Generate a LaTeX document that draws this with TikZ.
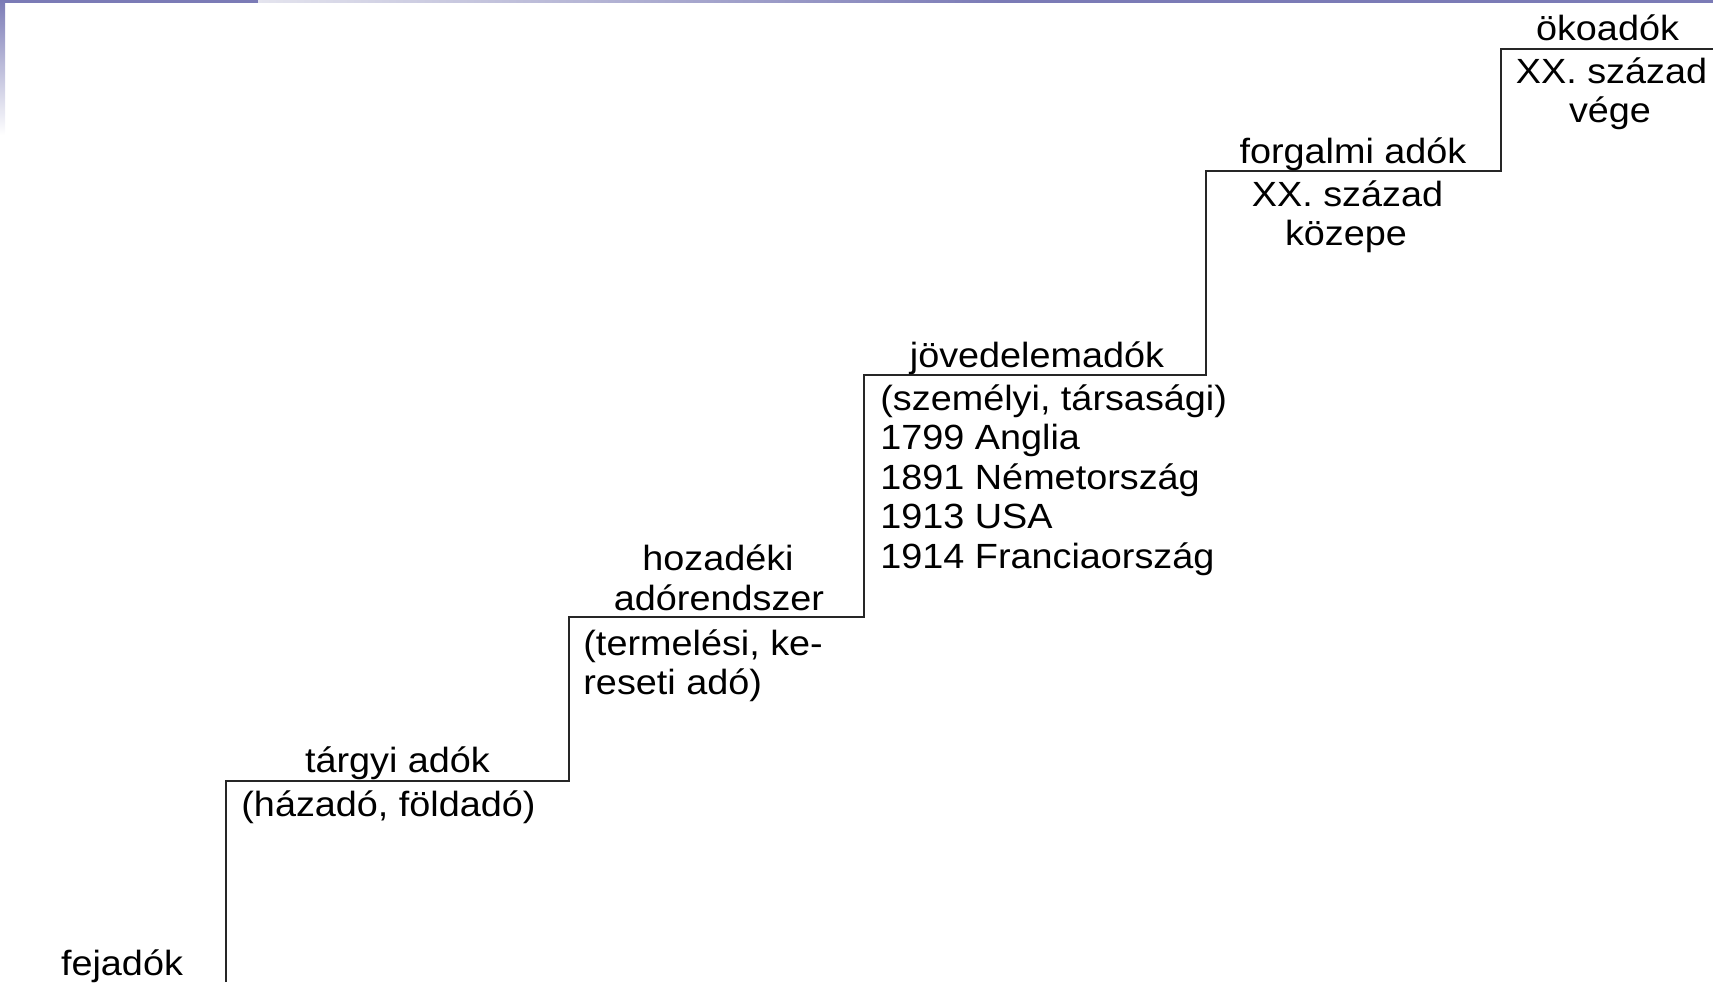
\documentclass[tikz,border=0pt]{standalone}
\usepackage{fontspec}
\setmainfont[FakeStretch=1.08]{Liberation Sans}
\definecolor{barpurple}{HTML}{7B7BB6}
\definecolor{barlight}{HTML}{E4E4EE}
\begin{document}
\begin{tikzpicture}[x=0.5pt,y=-0.5pt,
  lbl/.style={inner sep=0pt,anchor=base,font=\fontsize{17.5pt}{19.25pt}\selectfont},
  lblw/.style={lbl,anchor=base west},
  stair/.style={draw=black!85,line width=1pt,line join=miter}]
\useasboundingbox (0,0) rectangle (1713,982);
% top decoration
\fill[barpurple] (0,0) rectangle (258,2.5);
\shade[left color=barlight,right color=barpurple] (258,0) rectangle (1000,2.5);
\fill[barpurple] (1000,0) rectangle (1713,2.5);
\shade[top color=barpurple,bottom color=white] (0,0) rectangle (5,135);
% staircase corners
\coordinate (s0) at (226,982);
\coordinate (s1) at (226,781);
\coordinate (s2) at (569,781);
\coordinate (s3) at (569,617);
\coordinate (s4) at (864,617);
\coordinate (s5) at (864,375);
\coordinate (s6) at (1206,375);
\coordinate (s7) at (1206,171);
\coordinate (s8) at (1501,171);
\coordinate (s9) at (1501,49);
\coordinate (s10) at (1713,49);
\draw[stair] (s0) -- (s1) -- (s2) -- (s3) -- (s4) -- (s5) -- (s6) -- (s7) -- (s8) -- (s9) -- (s10);
% labels
\node[lbl] (fej) at (122,975) {fejadók};
\node[lbl] (targy) at (397.5,772) {tárgyi adók};
\node[lblw] (haz) at (241,816) {(házadó, földadó)};
\node[lbl] (hoz1) at (718,570) {hozadéki};
\node[lbl] (hoz2) at (719,610) {adórendszer};
\node[lblw] (term1) at (583,655) {(termelési, ke-};
\node[lblw] (term2) at (583,694) {reseti adó)};
\node[lbl] (jov) at (1037,367) {jövedelemadók};
\node[lblw] (jov1) at (880,410) {(személyi, társasági)};
\node[lblw] (jov2) at (880,449.5) {1799 Anglia};
\node[lblw] (jov3) at (880,489) {1891 Németország};
\node[lblw] (jov4) at (880,528.5) {1913 USA};
\node[lblw] (jov5) at (880,568) {1914 Franciaország};
\node[lbl] (forg) at (1353,163) {forgalmi adók};
\node[lbl] (forg1) at (1347.5,206) {XX. század};
\node[lbl] (forg2) at (1346,245) {közepe};
\node[lbl] (oko) at (1607.5,40) {ökoadók};
\node[lbl] (oko1) at (1611.5,83) {XX. század};
\node[lbl] (oko2) at (1610,122) {vége};
\end{tikzpicture}
\end{document}
